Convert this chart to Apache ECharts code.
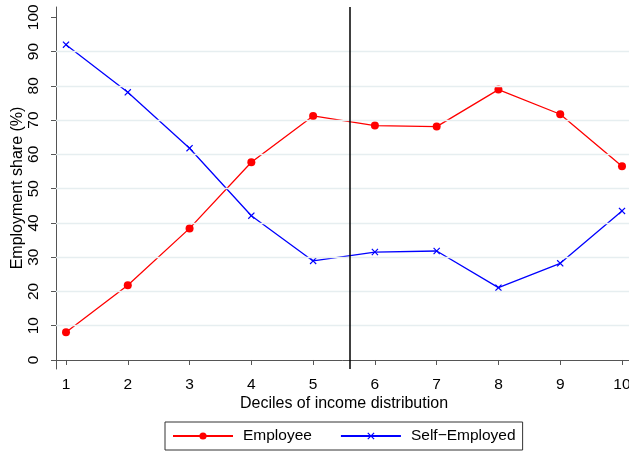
<!DOCTYPE html>
<html>
<head>
<meta charset="utf-8">
<script src="https://cdn.jsdelivr.net/npm/echarts@6/dist/echarts.min.js"></script>
<style>
html,body{margin:0;padding:0;background:#fff;}
#chart{width:629px;height:453px;}
</style>
</head>
<body>
<div id="chart"></div>
<script>
const deciles = [1, 2, 3, 4, 5, 6, 7, 8, 9, 10];
const employee = [8.1, 21.8, 38.4, 57.7, 71.2, 68.4, 68.1, 78.9, 71.7, 56.5];
const selfEmployed = [92.0, 78.1, 61.8, 42.1, 28.9, 31.5, 31.8, 21.1, 28.2, 43.5];
const yTicks = [0, 10, 20, 30, 40, 50, 60, 70, 80, 90, 100];
const gridValues = [10, 20, 30, 40, 50, 60, 70, 80, 90];
const cutoff = 5.6;

const font = 'Liberation Sans, Arial, Helvetica, sans-serif';
const crossPath = 'path://M0,1.2L1.2,0L5,3.8L8.8,0L10,1.2L6.2,5L10,8.8L8.8,10L5,6.2L1.2,10L0,8.8L3.8,5Z';

const chart = echarts.init(document.getElementById('chart'), null, {renderer: 'canvas'});
chart.setOption({
  animation: false,
  backgroundColor: '#ffffff',
  textStyle: {fontFamily: font},
  grid: {left: 56, right: -3, top: 7, bottom: 84, containLabel: false, outerBoundsMode: 'none'},
  xAxis: {
    type: 'value',
    min: 0.838, max: 10.162,
    name: 'Deciles of income distribution',
    nameLocation: 'middle',
    nameGap: 27,
    nameMoveOverlap: false,
    nameTextStyle: {fontSize: 16, color: '#000', fontFamily: font},
    axisLine: {show: true, lineStyle: {color: '#555', width: 1}},
    axisTick: {show: true, length: 5, lineStyle: {color: '#555'}, customValues: deciles},
    axisLabel: {fontSize: 15.5, color: '#000', margin: 8, fontFamily: font, customValues: deciles},
    splitLine: {show: false}
  },
  yAxis: {
    type: 'value',
    min: -2.63, max: 103.0,
    name: 'Employment share (%)',
    nameLocation: 'middle',
    nameGap: 30,
    nameMoveOverlap: false,
    nameTextStyle: {fontSize: 16, color: '#000', fontFamily: font},
    axisLine: {show: true, lineStyle: {color: '#555', width: 1}},
    axisTick: {show: true, length: 5, lineStyle: {color: '#555'}, customValues: yTicks},
    axisLabel: {fontSize: 15.5, color: '#000', rotate: 90, margin: 14, fontFamily: font, customValues: yTicks},
    splitLine: {show: false}
  },
  legend: {
    left: 165, top: 422,
    orient: 'horizontal',
    padding: [6, 7, 6, 7],
    itemWidth: 60, itemHeight: 9, itemGap: 28,
    borderColor: '#333', borderWidth: 1,
    textStyle: {fontSize: 15.5, color: '#000', fontFamily: font, padding: [0, 0, 0, 5]},
    data: ['Employee', 'Self\u2212Employed']
  },
  series: [
    {
      name: 'grid',
      type: 'line',
      data: [],
      z: 1,
      silent: true,
      markLine: {
        silent: true,
        symbol: ['none', 'none'],
        label: {show: false},
        lineStyle: {color: '#e6eef0', width: 1.4, type: 'solid'},
        data: gridValues.map(v => ({yAxis: v}))
      }
    },
    {
      name: 'Employee',
      type: 'line',
      z: 3,
      data: deciles.map((d, i) => [d, employee[i]]),
      symbol: 'circle',
      symbolSize: 8,
      lineStyle: {color: '#ff0000', width: 1.3},
      itemStyle: {color: '#ff0000'}
    },
    {
      name: 'Self\u2212Employed',
      type: 'line',
      z: 3,
      data: deciles.map((d, i) => [d, selfEmployed[i]]),
      symbol: crossPath,
      symbolSize: 7,
      lineStyle: {color: '#0000ff', width: 1.3},
      itemStyle: {color: '#0000ff'},
      markLine: {
        silent: true,
        symbol: ['none', 'none'],
        label: {show: false},
        lineStyle: {color: '#000', width: 1.5, type: 'solid'},
        data: [{xAxis: cutoff}]
      }
    }
  ]
});
</script>
</body>
</html>
